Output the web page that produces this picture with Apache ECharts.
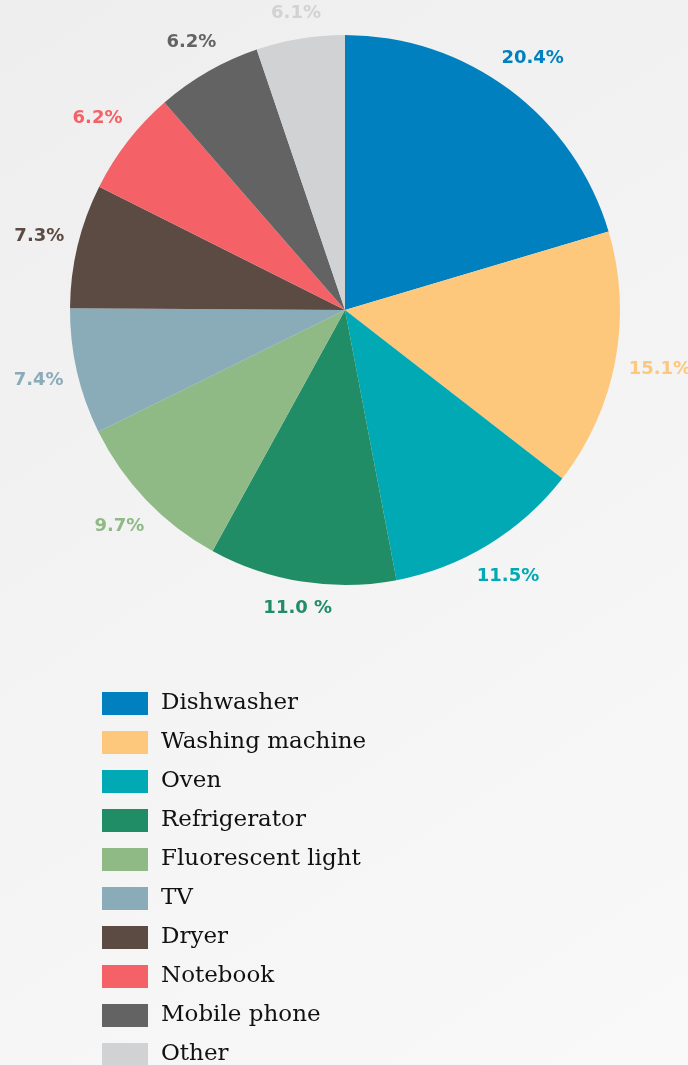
<!DOCTYPE html>
<html>
<head>
<meta charset="utf-8">
<script src="https://cdn.jsdelivr.net/npm/echarts@6/dist/echarts.min.js"></script>
<style>
  html, body { margin: 0; padding: 0; }
  #pieChart { width: 688px; height: 1065px; }
</style>
</head>
<body>
<div id="pieChart"></div>
<script>
  // 饼图数据（扇区大小按图中量得，最后一块比标签小）
  var categories = ['Dishwasher', 'Washing machine', 'Oven', 'Refrigerator', 'Fluorescent light',
                    'TV', 'Dryer', 'Notebook', 'Mobile phone', 'Other'];
  var values = [20.4, 15.1, 11.5, 11.0, 9.7, 7.4, 7.3, 6.2, 6.2, 5.2];
  var labelTexts = ['20.4%', '15.1%', '11.5%', '11.0 %', '9.7%', '7.4%', '7.3%', '6.2%', '6.2%', '6.1%'];
  var colors = ['#0080be', '#fdc77c', '#00a9b4', '#218d66', '#8fba85',
                '#8aabb8', '#5c4b43', '#f46166', '#636363', '#d1d2d4'];

  var CX = 345, CY = 310, R = 275, RING = 310, GAP = 13;

  var pieData = [];
  var labelData = [];
  for (var i = 0; i < categories.length; i++) {
    pieData.push({ name: categories[i], value: values[i] });
    labelData.push({
      name: categories[i],
      value: values[i],
      label: { color: colors[i], formatter: labelTexts[i] }
    });
  }

  // 标签外移：让文字框离饼边保持固定距离
  function placeLabel(params) {
    var rect = params.labelRect;
    if (!rect) return {};
    var lx = rect.x + rect.width / 2 - CX;
    var ly = rect.y + rect.height / 2 - CY;
    var d0 = Math.sqrt(lx * lx + ly * ly);
    var s = lx / d0, c = ly / d0;
    var target = R + GAP + Math.abs(s) * rect.width / 2 + Math.abs(c) * rect.height / 2;
    return { dx: (target - d0) * s, dy: (target - d0) * c };
  }

  var options = {
    backgroundColor: {
      type: 'linear', x: 0, y: 0, x2: 1, y2: 1,
      colorStops: [{ offset: 0, color: '#eeeeee' }, { offset: 1, color: '#f9f9f9' }]
    },
    color: colors,
    animation: false,
    legend: {
      orient: 'vertical',
      left: 102,
      top: 692,
      height: 500,
      padding: 0,
      itemWidth: 46,
      itemHeight: 23,
      itemGap: 16,
      icon: 'rect',
      data: categories,
      textStyle: {
        fontFamily: 'DejaVu Serif',
        fontSize: 23,
        lineHeight: 23,
        color: '#111111',
        padding: [0, 0, 0, 8]
      }
    },
    series: [
      {
        name: 'main',
        type: 'pie',
        center: [CX, CY],
        radius: [0, R],
        startAngle: 90,
        label: { show: false },
        labelLine: { show: false },
        data: pieData
      },
      {
        // 标签环（透明）
        name: 'labels',
        type: 'pie',
        center: [CX, CY],
        radius: [RING - 10, RING + 10],
        startAngle: 90,
        silent: true,
        itemStyle: { color: 'transparent' },
        label: {
          show: true,
          position: 'inside',
          fontFamily: 'DejaVu Sans',
          fontWeight: 'bold',
          fontSize: 18
        },
        labelLine: { show: false },
        labelLayout: placeLabel,
        data: labelData
      }
    ]
  };

  var pieChart = echarts.init(document.getElementById('pieChart'));
  pieChart.setOption(options);
</script>
</body>
</html>
